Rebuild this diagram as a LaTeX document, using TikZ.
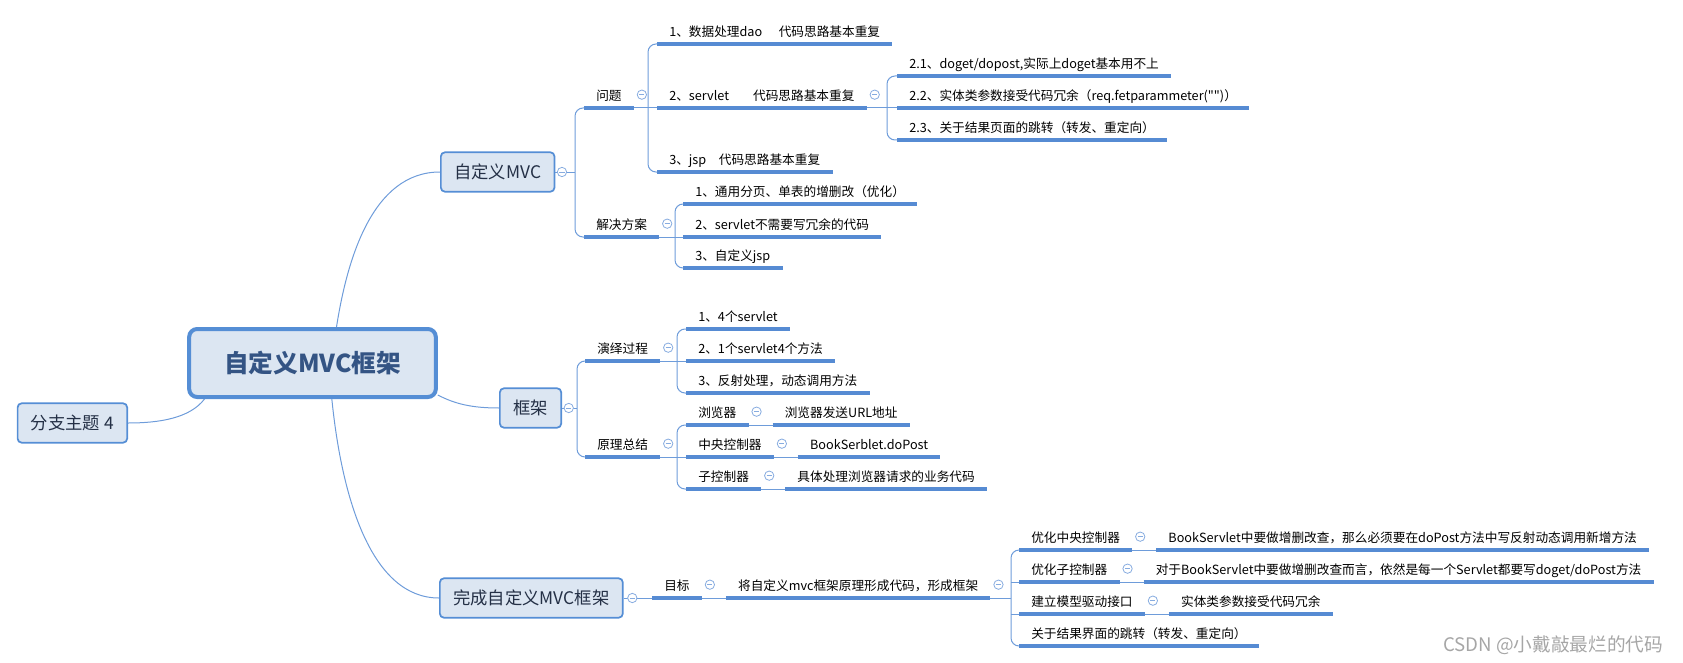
\documentclass[tikz,border=0pt]{standalone}
\usepackage{fontspec}
\setmainfont{Noto Sans CJK SC}
\newfontfamily\plainfont{Noto Sans CJK SC}
\usetikzlibrary{positioning}
\definecolor{linec}{RGB}{110,156,218}
\definecolor{ulc}{RGB}{86,139,211}
\definecolor{boxfill}{RGB}{220,230,242}
\definecolor{boxline}{RGB}{85,142,213}
\definecolor{maintext}{RGB}{52,84,132}
\definecolor{topictext}{RGB}{36,48,70}
\definecolor{foldc}{RGB}{135,172,224}

\begin{document}
\begin{tikzpicture}[x=0.75pt, y=-0.75pt]
    \tikzstyle{mainbox} = [rectangle, draw=boxline, line width=3pt, fill=boxfill, rounded corners=6pt, minimum width=185pt, minimum height=51pt, font=\fontsize{18.5}{22}\selectfont\bfseries, text=maintext]
    \tikzstyle{topic} = [rectangle, draw=boxline, line width=1.3pt, fill=boxfill, rounded corners=3pt, inner xsep=10pt, minimum height=29.5pt, font=\fontsize{13}{15}\selectfont, text=topictext]
    \tikzstyle{uline} = [draw=ulc, line width=2.4pt]
    \tikzstyle{leaf} = [anchor=south west, inner xsep=9pt, inner ysep=3pt, text height=7.5pt, text depth=2.5pt, font=\fontsize{9.5}{11}\selectfont, text=black, append after command={(\tikzlastnode.south west) edge [uline] (\tikzlastnode.south east)}]
    \tikzstyle{link} = [draw=linec, line width=0.75pt]
    \tikzstyle{fold} = [circle, draw=foldc, fill=white, line width=0.6pt, minimum size=7pt, inner sep=0pt, path picture={\draw [foldc, line width=0.6pt] ([xshift=1.6pt]path picture bounding box.west) -- ([xshift=-1.6pt]path picture bounding box.east);}]
    \tikzstyle{wmark} = [font=\fontsize{14}{16}\selectfont, text=black!35]
    \useasboundingbox (0,0) rectangle (1683,663);

    \node (main) [mainbox] at (312.5,363) {自定义MVC框架};
    \node (t1) [topic, anchor=west] at (440,172) {自定义MVC};
    \node (t2) [topic, anchor=west] at (499,408) {框架};
    \node (t3) [topic, anchor=west] at (439,598) {完成自定义MVC框架};
    \node (t4) [topic, anchor=east] at (128,423) {分支主题 4};

    \draw [link] ([xshift=18pt]main.north) .. controls (347,260) and (372,172) .. (t1.west);
    \draw [link] ([yshift=-24pt]main.east) .. controls (455,404) and (472,408) .. (t2.west);
    \draw [link] ([xshift=14.5pt]main.south) .. controls (342,500) and (372,598) .. (t3.west);
    \draw [link] ([xshift=13pt]main.south west) .. controls (190,418) and (160,423) .. (t4.east);

    % 自定义MVC
    \node (wt) [leaf] at (584,108) {问题};
    \node (wt1) [leaf] at (657,44) {1、数据处理dao\hspace{1.3em}代码思路基本重复};
    \node (wt2) [leaf] at (657,108) {2、servlet\hspace{1.9em}代码思路基本重复};
    \node (wt3) [leaf] at (657,172) {3、jsp\hspace{1em}代码思路基本重复};
    \node (wt21) [leaf] at (897,76) {2.1、doget/dopost,实际上doget基本用不上};
    \node (wt22) [leaf] at (897,108) {2.2、实体类参数接受代码冗余（req.fetparammeter{\plainfont ("")}）};
    \node (wt23) [leaf] at (897,140) {2.3、关于结果页面的跳转（转发、重定向）};
    \node (fa) [leaf] at (584,237) {解决方案};
    \node (fa1) [leaf] at (683,204) {1、通用分页、单表的增删改（优化）};
    \node (fa2) [leaf] at (683,237) {2、servlet不需要写冗余的代码};
    \node (fa3) [leaf] at (683,268) {3、自定义jsp};

    \coordinate (b1) at (575,172);
    \draw [link] (t1.east) -- (b1);
    \draw [link, rounded corners=6pt] (wt.south west) -| (b1) |- (fa.south west);
    \coordinate (b11) at (648,108);
    \draw [link] (wt.south east) -- (wt2.south west);
    \draw [link, rounded corners=6pt] (wt1.south west) -| (b11) |- (wt3.south west);
    \coordinate (b12) at (887,108);
    \draw [link] (wt2.south east) -- (wt22.south west);
    \draw [link, rounded corners=6pt] (wt21.south west) -| (b12) |- (wt23.south west);
    \coordinate (b13) at (675,237);
    \draw [link] (fa.south east) -- (fa2.south west);
    \draw [link, rounded corners=6pt] (fa1.south west) -| (b13) |- (fa3.south west);

    % 框架
    \node (yy) [leaf] at (585,361) {演绎过程};
    \node (yy1) [leaf] at (686,329) {1、4个servlet};
    \node (yy2) [leaf] at (686,361) {2、1个servlet4个方法};
    \node (yy3) [leaf] at (686,393) {3、反射处理，动态调用方法};
    \node (yl) [leaf] at (585,457) {原理总结};
    \node (yl1) [leaf] at (686,425) {浏览器};
    \node (yl1a) [leaf, right=18pt of yl1] {浏览器发送URL地址};
    \node (yl2) [leaf] at (686,457) {中央控制器};
    \node (yl2a) [leaf, right=18pt of yl2] {BookSerblet.doPost};
    \node (yl3) [leaf] at (686,489) {子控制器};
    \node (yl3a) [leaf, right=18pt of yl3] {具体处理浏览器请求的业务代码};

    \coordinate (b2) at (577,408);
    \draw [link] (t2.east) -- (b2);
    \draw [link, rounded corners=6pt] (yy.south west) -| (b2) |- (yl.south west);
    \coordinate (b21) at (677,361);
    \draw [link] (yy.south east) -- (yy2.south west);
    \draw [link, rounded corners=6pt] (yy1.south west) -| (b21) |- (yy3.south west);
    \coordinate (b22) at (677,457);
    \draw [link] (yl.south east) -- (yl2.south west);
    \draw [link, rounded corners=6pt] (yl1.south west) -| (b22) |- (yl3.south west);
    \draw [link] (yl1.south east) -- (yl1a.south west);
    \draw [link] (yl2.south east) -- (yl2a.south west);
    \draw [link] (yl3.south east) -- (yl3a.south west);

    % 完成自定义MVC框架
    \node (mb) [leaf] at (652,598) {目标};
    \node (mb1) [leaf, right=18pt of mb] {将自定义mvc框架原理形成代码，形成框架};
    \node (mb11) [leaf] at (1019,550) {优化中央控制器};
    \node (mb11a) [leaf, right=18pt of mb11] {BookServlet中要做增删改查，那么必须要在doPost方法中写反射动态调用新增方法};
    \node (mb12) [leaf] at (1019,582) {优化子控制器};
    \node (mb12a) [leaf, right=18pt of mb12] {对于BookServlet中要做增删改查而言，依然是每一个Servlet都要写doget/doPost方法};
    \node (mb13) [leaf] at (1019,614) {建立模型驱动接口};
    \node (mb13a) [leaf, right=18pt of mb13] {实体类参数接受代码冗余};
    \node (mb14) [leaf] at (1019,646) {关于结果界面的跳转（转发、重定向）};

    \draw [link] (t3.east) -- (mb.south west);
    \draw [link] (mb.south east) -- (mb1.south west);
    \coordinate (b3) at (1011,598);
    \draw [link] (mb1.south east) -- (b3);
    \draw [link, rounded corners=6pt] (mb11.south west) -| (b3) |- (mb14.south west);
    \draw [link] (b3 |- mb12.south west) -- (mb12.south west);
    \draw [link] (b3 |- mb13.south west) -- (mb13.south west);
    \draw [link] (mb11.south east) -- (mb11a.south west);
    \draw [link] (mb12.south east) -- (mb12a.south west);
    \draw [link] (mb13.south east) -- (mb13a.south west);

    % fold buttons
    \node (ft1) [fold] at ([xshift=5pt]t1.east) {};
    \node (ft2) [fold] at ([xshift=5pt]t2.east) {};
    \node (ft3) [fold] at ([xshift=6.5pt]t3.east) {};
    \node (fwt) [fold] at ([xshift=6pt,yshift=10pt]wt.south east) {};
    \node (fwt2) [fold] at ([xshift=6pt,yshift=10pt]wt2.south east) {};
    \node (ffa) [fold] at ([xshift=6pt,yshift=10pt]fa.south east) {};
    \node (fyy) [fold] at ([xshift=6pt,yshift=10pt]yy.south east) {};
    \node (fyl) [fold] at ([xshift=6pt,yshift=10pt]yl.south east) {};
    \node (fyl1) [fold] at ([xshift=6pt,yshift=10pt]yl1.south east) {};
    \node (fyl2) [fold] at ([xshift=6pt,yshift=10pt]yl2.south east) {};
    \node (fyl3) [fold] at ([xshift=6pt,yshift=10pt]yl3.south east) {};
    \node (fmb) [fold] at ([xshift=6pt,yshift=10pt]mb.south east) {};
    \node (fmb1) [fold] at ([xshift=6pt,yshift=10pt]mb1.south east) {};
    \node (fmb11) [fold] at ([xshift=6pt,yshift=10pt]mb11.south east) {};
    \node (fmb12) [fold] at ([xshift=6pt,yshift=10pt]mb12.south east) {};
    \node (fmb13) [fold] at ([xshift=6pt,yshift=10pt]mb13.south east) {};

    \node (wm) [wmark] at (1553,645) {CSDN @小戴敲最烂的代码};
\end{tikzpicture}
\end{document}
